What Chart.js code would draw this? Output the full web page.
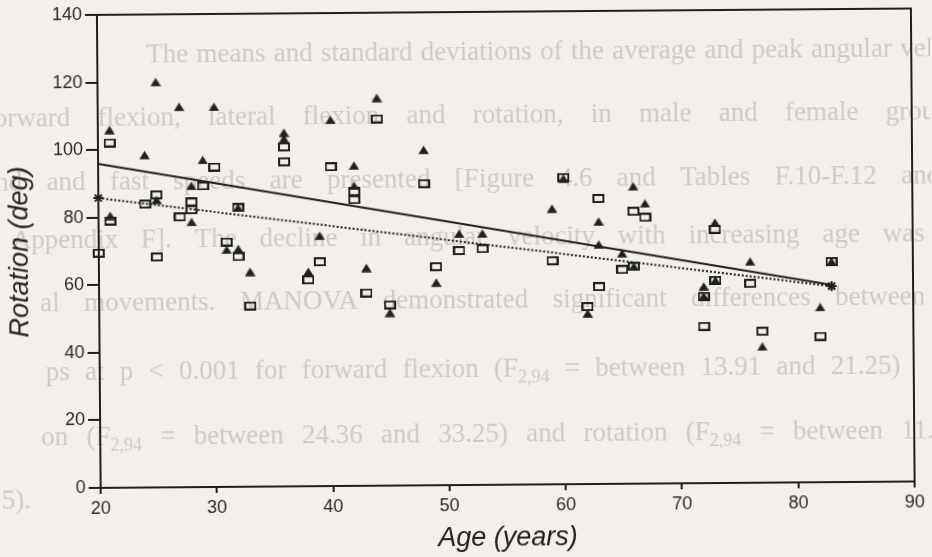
<!DOCTYPE html>
<html>
<head>
<meta charset="utf-8">
<title>Rotation vs Age</title>
<script src="https://cdn.jsdelivr.net/npm/chart.js@4.4.1/dist/chart.umd.min.js"></script>
<style>
  html, body { margin: 0; padding: 0; background: #f3f0ec; overflow: hidden; }
  #wrap { width: 932px; height: 557px; transform: rotate(-0.45deg); transform-origin: 466px 278.5px; }
  canvas { display: block; }
</style>
</head>
<body>
<div id="wrap"><canvas id="c" width="932" height="557"></canvas></div>
<script>
// Axis ranges
const ageMin = 20, ageMax = 90, ageStep = 10;
const rotMin = 0, rotMax = 140, rotStep = 20;

// Group 1 (filled triangles): age in years, rotation in degrees
const triAge = [21,25,27,30,24,29,28,36,36,25, 28,21,31,32,32,33,40,44,48,42,
                42,39,38,43,45,49,51,53,59,60, 66,63,67,73,63,65,76,72,82,77,
                62,83,72,73,66];
const triRot = [105.9,120.0,112.6,112.5,98.4,96.8,89.2,104.7,102.9,85.1,
                78.5,80.5,70.2,70.4,82.6,63.6,108.4,114.8,99.3,94.8,
                88.8,74.1,63.5,64.5,51.2,60.0,74.4,74.4,81.6,90.5,
                88.0,77.7,82.9,77.1,70.9,68.2,65.5,58.2,51.8,40.3,
                50.5,65.3,55.3,60.0,64.3];

// Group 2 (open squares)
const sqAge = [21,30,29,36,36,25,24,28,28,27, 21,20,25,31,32,32,33,38,40,44,
               48,42,42,39,43,45,49,51,53,59, 60,63,66,67,73,65,66,63,62,73,
               76,72,72,77,82,83];
const sqRot = [102.1,94.7,89.1,100.5,96.1,86.6,83.9,84.4,82.1,80.0,
               79.0,69.5,68.2,72.5,68.1,82.6,53.5,61.1,94.5,108.6,
               89.3,87.1,84.7,66.4,57.1,53.5,64.7,69.4,69.9,66.2,
               90.8,84.5,80.6,78.8,75.1,63.4,64.3,58.4,52.5,60.0,
               59.0,55.3,46.4,44.8,43.2,65.3];

// Regression lines (end points)
const fitTriAge = [20, 83];
const fitTriRot = [95.9, 58.4];
const fitSqAge = [20, 83];
const fitSqRot = [85.8, 58.0];

// Page text that shows through behind the figure
const pageLines = [
  { y: 53,  x0: 148, xl: 902, text: 'The means and standard deviations of the average and peak angular velocities' },
  { y: 116, x0: -14, xl: 887, text: 'forward flexion, lateral flexion and rotation, in male and female groups' },
  { y: 180, x0: -4,  xl: 902, text: 'nd and fast speeds are presented [Figure 4.6 and Tables F.10-F.12 and' },
  { y: 238, x0: 12,  xl: 883, text: 'Appendix F]. The decline in angular velocity with increasing age was' },
  { y: 301, x0: 40,  xl: 835, text: 'al movements. MANOVA demonstrated significant differences between' },
  { y: 370, x0: 45,  xl: 830, text: 'ps at p < 0.001 for forward flexion (F_2,94 = between 13.91 and 21.25)' },
  { y: 435, x0: 40,  xl: 900, text: 'on (F_2,94 = between 24.36 and 33.25) and rotation (F_2,94 = between 11.' },
  { y: 498, x0: 0,   xl: 0,   text: '5).' }
];

const ink = '#1f1f1f';
const sansFamily = "'Liberation Sans', Arial, Helvetica, sans-serif";

function makeTriangle() {
  const c = document.createElement('canvas');
  c.width = 11; c.height = 9;
  const g = c.getContext('2d');
  g.fillStyle = ink;
  g.beginPath();
  g.moveTo(5.5, 0.3); g.lineTo(10.8, 8.7); g.lineTo(0.2, 8.7); g.closePath();
  g.fill();
  return c;
}
function makeSquare() {
  const c = document.createElement('canvas');
  c.width = 12; c.height = 9;
  const g = c.getContext('2d');
  g.strokeStyle = ink; g.lineWidth = 2;
  g.strokeRect(1, 1, 10, 7);
  return c;
}

const pagePlugin = {
  id: 'page',
  beforeDraw(chart) {
    const ctx = chart.ctx;
    ctx.save();
    ctx.fillStyle = '#f3f0ec';
    ctx.fillRect(0, 0, chart.width, chart.height);
    ctx.filter = 'blur(0.7px)';
    ctx.fillStyle = '#cdc9c4';
    ctx.textBaseline = 'middle';
    const mainFont = "27px 'Liberation Serif', 'Times New Roman', serif";
    const subFont = "18px 'Liberation Serif', 'Times New Roman', serif";
    const measure = (w) => {
      const parts = w.split('_');
      ctx.font = mainFont;
      let width = ctx.measureText(parts[0]).width;
      if (parts.length > 1) { ctx.font = subFont; width += ctx.measureText(parts[1]).width; }
      return width;
    };
    const drawWord = (w, x, y) => {
      const parts = w.split('_');
      ctx.font = mainFont;
      ctx.fillText(parts[0], x, y);
      if (parts.length > 1) {
        const wx = ctx.measureText(parts[0]).width;
        ctx.font = subFont;
        ctx.fillText(parts[1], x + wx, y + 8);
      }
    };
    pageLines.forEach(line => {
      const words = line.text.split(' ');
      const widths = words.map(measure);
      let gap = 7;
      if (words.length > 1) {
        const before = widths.slice(0, -1).reduce((a, b) => a + b, 0);
        gap = (line.xl - line.x0 - before) / (words.length - 1);
      }
      let x = line.x0;
      words.forEach((w, i) => { drawWord(w, x, line.y); x += widths[i] + gap; });
    });
    ctx.restore();
  }
};

const framePlugin = {
  id: 'frame',
  afterDatasetsDraw(chart) {
    const { ctx, chartArea: a } = chart;
    ctx.save();
    ctx.strokeStyle = ink;
    ctx.lineWidth = 2;
    ctx.beginPath();
    ctx.moveTo(a.left - 1, a.top);
    ctx.lineTo(a.right, a.top);
    ctx.lineTo(a.right, a.bottom + 1);
    ctx.stroke();
    ctx.restore();
  }
};

const pts = (xs, ys) => xs.map((x, i) => ({ x, y: ys[i] }));

new Chart(document.getElementById('c'), {
  type: 'scatter',
  data: {
    datasets: [
      {
        label: 'Fit (triangles)',
        data: pts(fitTriAge, fitTriRot),
        showLine: true,
        borderColor: ink,
        borderWidth: 2,
        pointRadius: 0,
        clip: false
      },
      {
        label: 'Fit (squares)',
        data: pts(fitSqAge, fitSqRot),
        showLine: true,
        borderColor: ink,
        borderWidth: 2,
        borderDash: [2, 2],
        pointStyle: 'star',
        pointRadius: 5,
        pointBorderWidth: 2,
        pointBorderColor: ink,
        pointBackgroundColor: ink,
        clip: false
      },
      {
        label: 'Squares',
        data: pts(sqAge, sqRot),
        pointStyle: makeSquare(),
        clip: false
      },
      {
        label: 'Triangles',
        data: pts(triAge, triRot),
        pointStyle: makeTriangle(),
        clip: false
      }
    ]
  },
  options: {
    responsive: false,
    devicePixelRatio: 1,
    animation: false,
    events: [],
    layout: { padding: { top: 12, right: 19, left: 0, bottom: 0 } },
    plugins: { legend: { display: false }, tooltip: { enabled: false } },
    scales: {
      x: {
        type: 'linear',
        min: ageMin, max: ageMax,
        afterFit(scale) { scale.height = 72; },
        ticks: { stepSize: ageStep, color: '#2a2a2a', padding: 4, font: { family: sansFamily, size: 18 } },
        grid: { drawOnChartArea: false, drawTicks: true, tickLength: 6, color: ink, lineWidth: 2 },
        border: { display: true, color: ink, width: 2 },
        title: { display: true, text: 'Age (years)', color: '#222', padding: { top: 0, bottom: 2 },
                 font: { family: sansFamily, size: 27, style: 'italic' } }
      },
      y: {
        type: 'linear',
        min: rotMin, max: rotMax,
        afterFit(scale) { scale.width = 99; },
        ticks: { stepSize: rotStep, color: '#2a2a2a', padding: 3, font: { family: sansFamily, size: 18, lineHeight: 1 } },
        grid: { drawOnChartArea: false, drawTicks: true, tickLength: 12, color: ink, lineWidth: 2 },
        border: { display: true, color: ink, width: 2 },
        title: { display: true, text: 'Rotation (deg)', color: '#222', padding: { top: 4, bottom: 0 },
                 font: { family: sansFamily, size: 27, style: 'italic' } }
      }
    }
  },
  plugins: [pagePlugin, framePlugin]
});
</script>
</body>
</html>
